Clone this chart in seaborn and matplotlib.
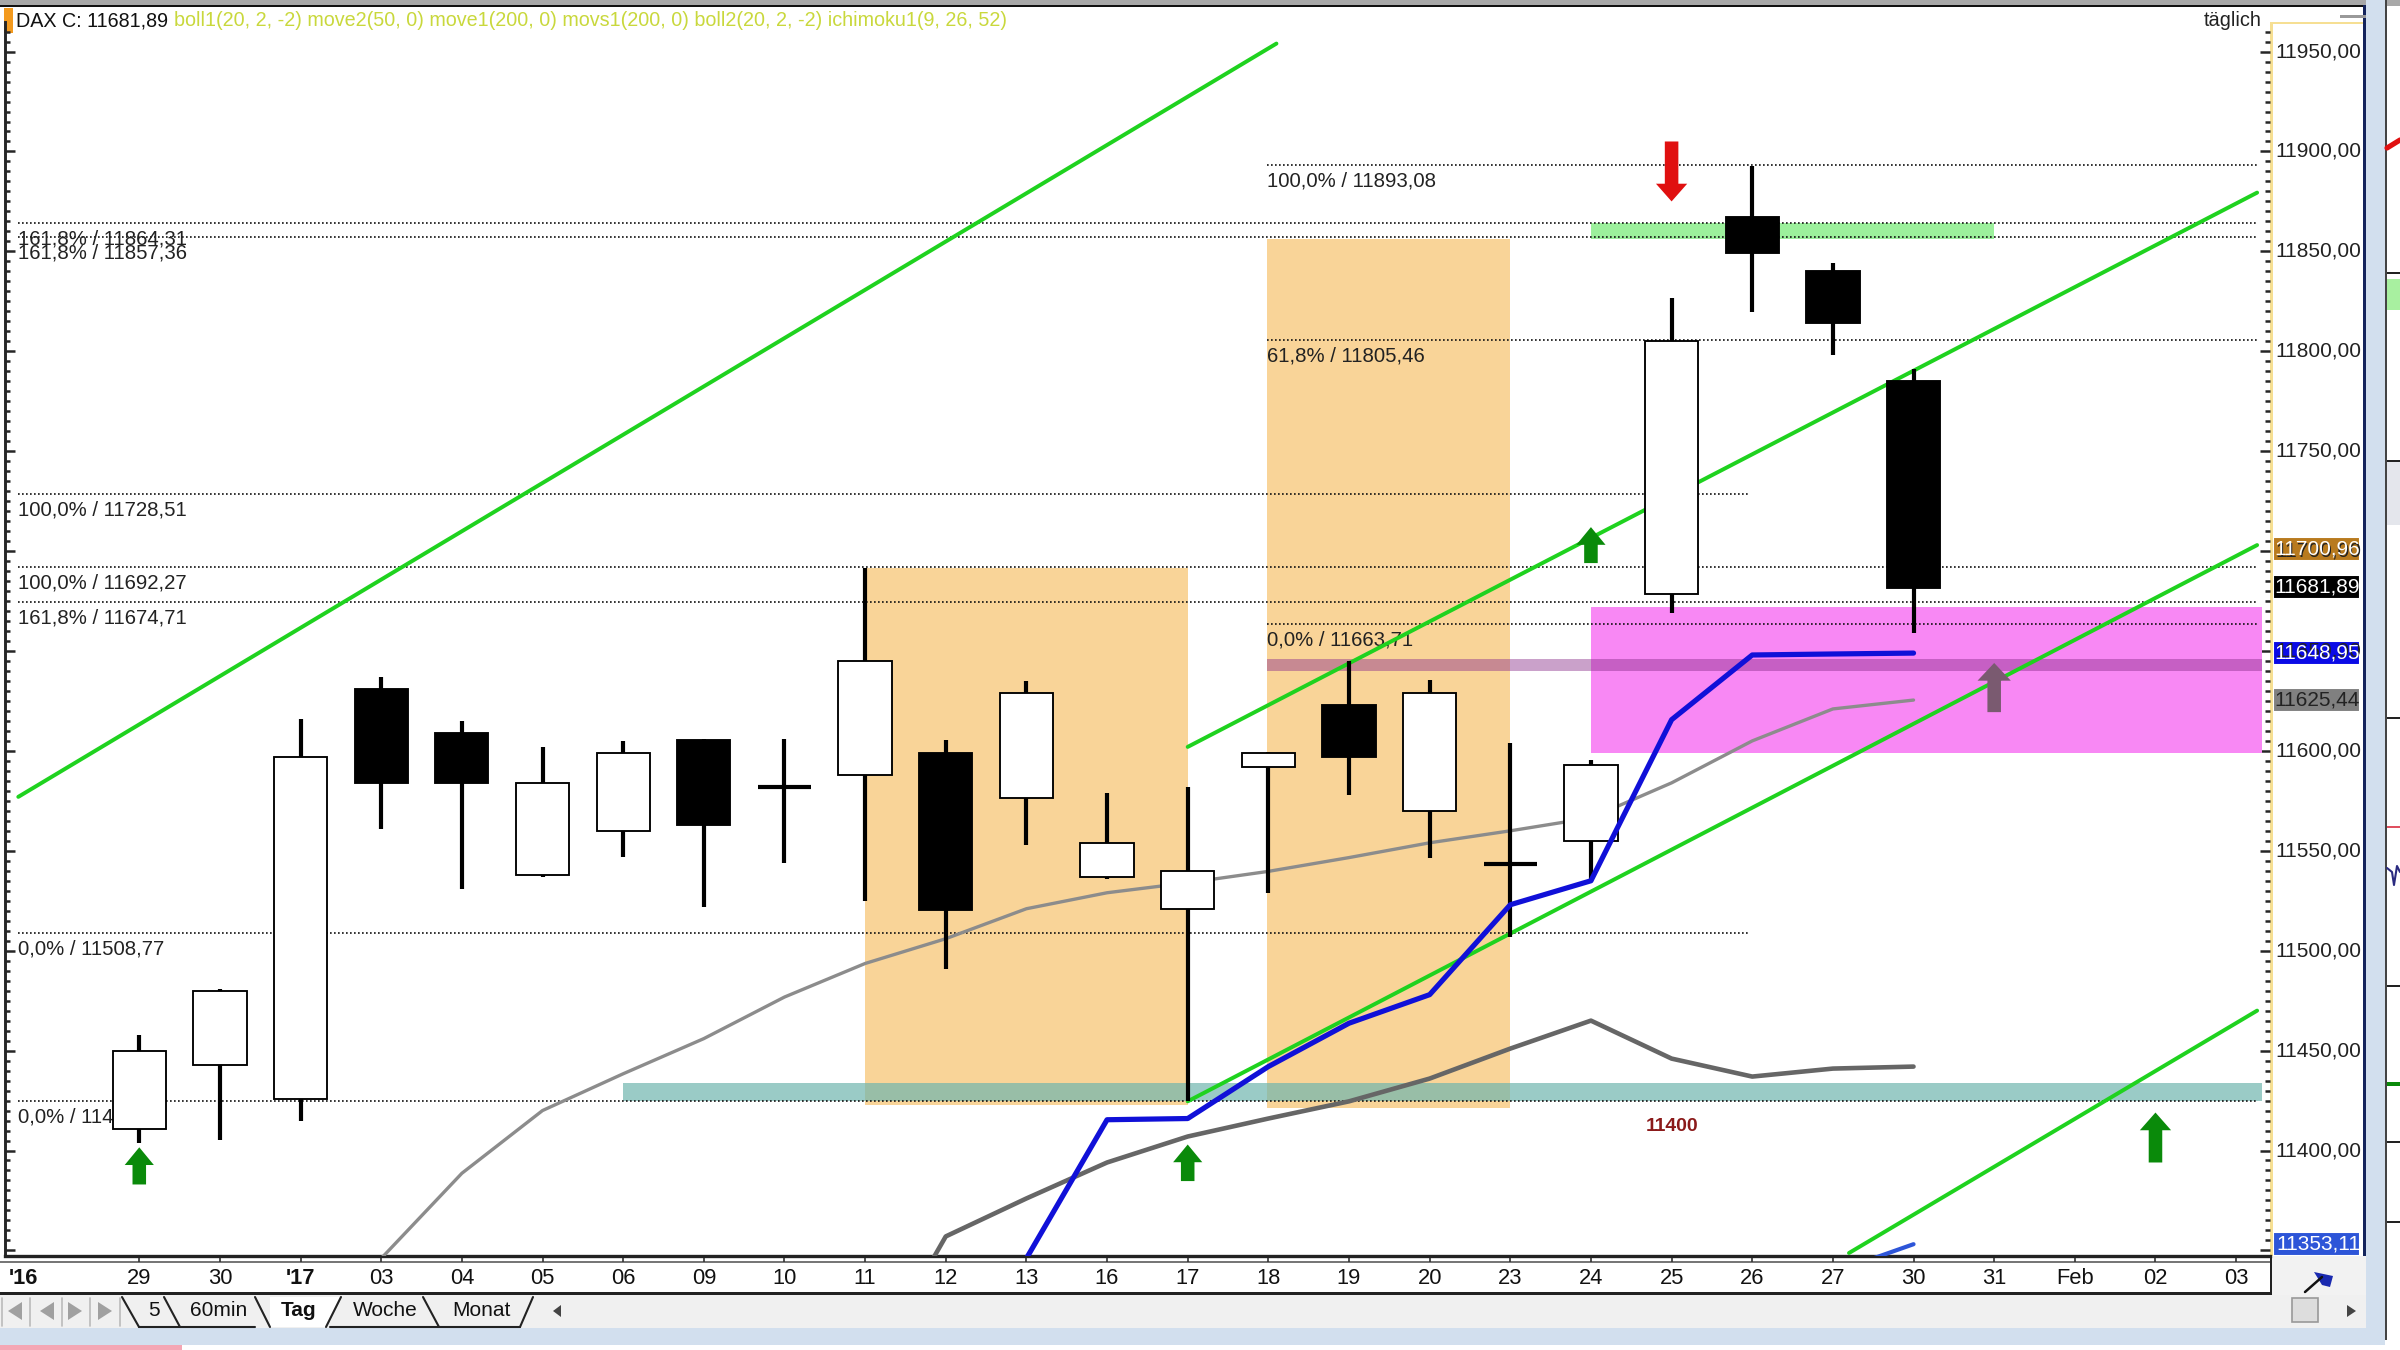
import matplotlib
matplotlib.use('Agg')
import matplotlib.pyplot as plt
from matplotlib.patches import Rectangle, Polygon
from matplotlib.ticker import MultipleLocator
import numpy as np
import pandas as pd
import seaborn as sns

# candles, one per trading day
candle_x = list(range(23))
candle_high = [11457.6, 11480.6, 11616, 11637, 11615, 11602, 11605, 11606, 11606, 11691.5, 11605.6, 11635,
               11579, 11582, 11599.5, 11645, 11635.5, 11604, 11595.6, 11826.5, 11892.5, 11844, 11791]
candle_open = [11410.8, 11443, 11426, 11631, 11609, 11538, 11560, 11605.6, 11582, 11588, 11599, 11576.5,
               11537, 11521, 11592, 11623, 11570, 11543.5, 11555, 11678.5, 11867, 11840, 11785]
candle_close = [11450, 11479.8, 11597, 11584, 11584, 11584, 11599, 11563, 11582, 11645, 11520.5, 11629,
                11554, 11540, 11599, 11597, 11629, 11543.5, 11593, 11805, 11849, 11814, 11681.5]
candle_low = [11404, 11405.4, 11414.6, 11561, 11531, 11537, 11547, 11522, 11544, 11525, 11491, 11553,
              11536, 11424.6, 11529, 11578, 11546.5, 11507, 11536, 11669, 11819.6, 11798, 11659]

# x axis
date_pos = [-1.44] + list(range(27))
date_labels = ["'16", '29', '30', "'17", '03', '04', '05', '06', '09', '10', '11', '12', '13', '16', '17',
               '18', '19', '20', '23', '24', '25', '26', '27', '30', '31', 'Feb', '02', '03']

# indicator lines
blue_x = [11, 12, 13, 14, 15, 16, 17, 18, 19, 20, 21, 22]
blue_y = [11346, 11415.4, 11416, 11442, 11463.7, 11478, 11523, 11535, 11615.6, 11648, 11648.5, 11648.95]
blue2_x = [21.5, 22]
blue2_y = [11346, 11353.11]
thin_x = list(range(3, 23))
thin_y = [11346, 11388.6, 11420, 11438.4, 11456, 11476.8, 11493.6, 11506, 11521, 11529, 11534, 11539.7,
          11546.6, 11554, 11560, 11566.5, 11584, 11605, 11621, 11625.44]
thick_x = list(range(9, 23))
thick_y = [11286.5, 11357, 11376, 11394, 11407, 11416, 11424.6, 11436, 11451, 11465, 11446, 11437, 11441, 11442]

# trend lines
trend_x0 = [-1.5, 13, 13, 21.2]
trend_y0 = [11577, 11602, 11424.6, 11348.7]
trend_x1 = [14.1, 26.26, 26.26, 26.26]
trend_y1 = [11954, 11879.4, 11703, 11470]

# fibonacci levels
fib_values = [11893.08, 11864.31, 11857.36, 11805.46, 11728.51, 11692.27, 11674.71, 11663.71, 11508.77, 11424.66]
fib_labels = ['100,0% / 11893,08', '161,8% / 11864,31', '161,8% / 11857,36', '61,8% / 11805,46',
              '100,0% / 11728,51', '100,0% / 11692,27', '161,8% / 11674,71', '0,0% / 11663,71',
              '0,0% / 11508,77', '0,0% / 11424,66']
fib_start = [13.98, -1.5, -1.5, 13.98, -1.5, -1.5, -1.5, 13.98, -1.5, -1.5]
fib_end = [26.27, 26.27, 26.27, 26.27, 19.96, 26.27, 26.27, 26.27, 19.96, 26.27]

# zones: x0, x1, y0, y1
zone_x0 = [9, 13.98, 6, 18, 18, 13.98]
zone_x1 = [13, 17, 26.32, 23, 26.32, 26.32]
zone_y0 = [11423, 11421.5, 11424.6, 11856, 11599, 11640]
zone_y1 = [11691.5, 11856.4, 11434, 11864, 11672, 11646]
zone_colors = ['#F9D498', '#F9D498', '#6FB5AE', '#9CF09C', '#F888F4', '#8B2F8B']
zone_alpha = [1, 1, 0.7, 1, 1, 0.45]

# arrows
arrow_x = [0, 13, 18, 25, 19, 23]
arrow_base = [11383, 11384.7, 11694, 11394, 11905, 11619.4]
arrow_tip = [11401.6, 11403, 11712, 11419, 11875, 11644]
arrow_colors = ['#0A8A0A', '#0A8A0A', '#0A8A0A', '#0A8A0A', '#E01010', '#7A5A70']
arrow_head = [14, 14, 14, 15, 15, 16]

# price badges on the right scale
badge_values = [11700.96, 11681.89, 11648.95, 11625.44, 11353.11]
badge_colors = ['#B87A1E', '#000000', '#0A0AE6', '#808080', '#2D55D8']
badge_text = ['white', 'white', 'white', '#222222', 'white']

sns.set_theme(style='ticks')
plt.rcParams['font.family'] = ['Liberation Sans', 'DejaVu Sans']

fig = plt.figure(figsize=(16, 9), dpi=150, facecolor='white')

# window chrome lives in an axes with pixel coordinates
bg = fig.add_axes([0, 0, 1, 1], zorder=0)
bg.set_xlim(0, 2400)
bg.set_ylim(1350, 0)
bg.axis('off')


def box(x0, y0, x1, y1, color, **kw):
    bg.add_patch(Rectangle((x0, y0), x1 - x0, y1 - y0, facecolor=color, edgecolor=kw.pop('edge', 'none'), **kw))


box(0, 0, 2400, 6, '#A8A8A8')
box(0, 5, 2365, 7, '#111111')
box(4, 8, 13, 33, '#F39A1E')
box(2270, 22, 2365, 1256, '#FFFFFF')
box(2270, 22, 2273, 1256, '#F6DF93')
box(2270, 22, 2365, 24, '#F6DF93')
box(2363, 5, 2366, 1256, '#14245C')
box(2366, 0, 2385, 1345, '#D2DFEE')
box(2385, 0, 2387, 1340, '#444444')

# next window on the right, only its edge shows
box(2387, 279, 2400, 310, '#A8F0A0')
box(2387, 460, 2400, 525, '#E4E6EC')
for ly in [272, 460, 717, 985, 1141, 1221]:
    box(2387, ly, 2400, ly + 2, '#222222')
box(2387, 1082, 2400, 1086, '#0A8A0A')
box(2387, 826, 2400, 828, '#E05060')
bg.plot([2387, 2400], [148, 140], color='#E01010', lw=2.5)
bg.plot([2387, 2392, 2394, 2397, 2400], [868, 872, 885, 866, 872], color='#2A2A80', lw=1)

# strip below the chart
box(0, 1257, 2270, 1293, '#FFFFFF')
box(0, 1261, 2270, 1262.5, '#777777')
box(0, 1292, 2272, 1295, '#222222')
box(2270, 1256, 2272, 1295, '#222222')
box(0, 1295, 2366, 1330, '#F0F0F0')
box(2272, 1256, 2366, 1295, '#F2F2F2')
box(0, 1328, 2366, 1345, '#D2DFEE')
box(0, 1345, 182, 1350, '#F4A6B4')
box(182, 1345, 2400, 1350, '#FFFFFF')

bg.text(16, 21, 'DAX C: 11681,89', fontsize=9.5, color='#111111', va='center')
bg.text(174, 21, 'boll1(20, 2, -2) move2(50, 0) move1(200, 0) movs1(200, 0) boll2(20, 2, -2) ichimoku1(9, 26, 52)',
        fontsize=9.5, color='#C9D83C', va='center')
bg.text(2233, 21, 'täglich', fontsize=9.6, color='#222222', va='center', ha='center')
box(2340, 15, 2366, 18, '#999999')

# tab bar
bg.add_patch(Polygon([[270, 1297], [341, 1297], [326, 1327], [270, 1327]], facecolor='white', edgecolor='none'))
for x0, x1 in [(122, 139), (164, 180), (255, 270), (341, 326), (423, 439), (533, 520)]:
    bg.plot([x0, x1], [1297, 1327], color='#222222', lw=1)
for x0, x1 in [(139, 180), (180, 255), (330, 439), (439, 520)]:
    bg.plot([x0, x1], [1327, 1327], color='#222222', lw=1)
for tx, name, weight in [(154, '5', 'normal'), (219, '60min', 'normal'), (299, 'Tag', 'bold'),
                         (385, 'Woche', 'normal'), (481, 'Monat', 'normal')]:
    bg.text(tx, 1311, name, fontsize=10, fontweight=weight, color='#111111', ha='center', va='center')
for tx, flip in [(15, -1), (47, -1), (75, 1), (105, 1)]:
    bg.add_patch(Polygon([[tx - 7 * flip, 1302], [tx + 7 * flip, 1311], [tx - 7 * flip, 1320]],
                         facecolor='#A0A0A0', edgecolor='none'))
for x0 in [2, 30, 62, 90, 120]:
    bg.plot([x0, x0], [1298, 1326], color='#BBBBBB', lw=0.8)
bg.add_patch(Polygon([[553, 1311], [561, 1305], [561, 1317]], facecolor='#444444', edgecolor='none'))
bg.add_patch(Polygon([[2347, 1305], [2356, 1311], [2347, 1317]], facecolor='#444444', edgecolor='none'))
box(2292, 1298, 2318, 1322, '#DDDDDD', edge='#999999', lw=0.8)
bg.plot([2305, 2322], [1292, 1277], color='#111111', lw=1.2)
bg.add_patch(Polygon([[2314, 1272], [2333, 1276], [2330, 1287], [2322, 1285]], facecolor='#1A2AB0', edgecolor='none'))

# main chart
ax = fig.add_axes([5 / 2400, 94 / 1350, 2265 / 2400, 1234 / 1350], zorder=1)
ax.patch.set_alpha(0)
ax.set_xlim(-1.665, 26.42)
ax.set_ylim(11347.2, 11964.8)

for x0, x1, y0, y1, c, a in zip(zone_x0, zone_x1, zone_y0, zone_y1, zone_colors, zone_alpha):
    ax.add_patch(Rectangle((x0, y0), x1 - x0, y1 - y0, facecolor=c, edgecolor='none', alpha=a, zorder=1))

ax.hlines(fib_values, fib_start, fib_end, colors='#111111', linewidth=0.8, linestyles=(0, (1, 1.4)), zorder=2)
for val, lab, start in zip(fib_values, fib_labels, fib_start):
    ax.text(start, val - 8, lab, fontsize=9.8, color='#222222', va='center', zorder=2)

for x0, y0, x1, y1 in zip(trend_x0, trend_y0, trend_x1, trend_y1):
    ax.plot([x0, x1], [y0, y1], color='#1FD21F', lw=1.9, zorder=3)

thin_df = pd.DataFrame({'x': thin_x, 'y': thin_y})
thick_df = pd.DataFrame({'x': thick_x, 'y': thick_y})
blue_df = pd.DataFrame({'x': blue_x, 'y': blue_y})
blue2_df = pd.DataFrame({'x': blue2_x, 'y': blue2_y})
sns.lineplot(data=thin_df, x='x', y='y', color='#8C8C8C', lw=1.6, ax=ax, zorder=4, legend=False, estimator=None)
sns.lineplot(data=thick_df, x='x', y='y', color='#666666', lw=2.2, ax=ax, zorder=4, legend=False, estimator=None)

# candles
for i, hi, op, cl, lo in zip(candle_x, candle_high, candle_open, candle_close, candle_low):
    ax.vlines(i, lo, hi, colors='black', linewidth=2, zorder=5)
    if op == cl:
        ax.hlines(op, i - 0.33, i + 0.33, colors='black', linewidth=2, zorder=5)
    else:
        face = 'white' if cl > op else 'black'
        ax.bar(i, abs(cl - op), bottom=min(op, cl), width=0.66, facecolor=face, edgecolor='black', linewidth=0.9, zorder=5)

sns.lineplot(data=blue_df, x='x', y='y', color='#1010D8', lw=2.5, ax=ax, zorder=6, legend=False, estimator=None)
sns.lineplot(data=blue2_df, x='x', y='y', color='#2D55D8', lw=2, ax=ax, zorder=6, legend=False, estimator=None)

for x, base, tip, c, hw in zip(arrow_x, arrow_base, arrow_tip, arrow_colors, arrow_head):
    ax.annotate('', xy=(x, tip), xytext=(x, base), zorder=7,
                arrowprops=dict(facecolor=c, edgecolor='none', shrink=0, width=6.5,
                                headwidth=hw, headlength=8.5))

ax.text(19, 11412, '11400', fontsize=9.3, fontweight='bold', color='#8B1A1A', ha='center', va='center')

ax.set_xlabel('')
ax.set_ylabel('')
ax.set_xticks(date_pos, date_labels, fontsize=10.5, color='#111111')
ax.get_xticklabels()[0].set_fontweight('bold')
ax.get_xticklabels()[3].set_fontweight('bold')
ax.xaxis.get_major_ticks()[0].tick1line.set_visible(False)
ax.tick_params(axis='x', length=3, width=0.8, pad=3, color='#333333')
ax.yaxis.set_major_locator(MultipleLocator(50))
ax.yaxis.set_minor_locator(MultipleLocator(5))
ax.tick_params(axis='y', which='major', length=5, width=1.2, direction='in', labelleft=False)
ax.tick_params(axis='y', which='minor', length=2.2, width=1.2, direction='in')
ax.yaxis.set_tick_params(which='both', left=True, right=True)
sns.despine(ax=ax, top=True, right=True)
ax.spines['left'].set_linewidth(1.4)
ax.spines['bottom'].set_linewidth(1.6)
ax.spines['bottom'].set_color('#222222')

# right price scale
axr = fig.add_axes([2273 / 2400, 94 / 1350, 90 / 2400, 1234 / 1350], zorder=2)
axr.patch.set_alpha(0)
axr.set_xlim(0, 90)
axr.set_ylim(ax.get_ylim())
axr.axis('off')
for val in np.arange(11400, 11951, 50):
    axr.text(88, val, f'{val:.2f}'.replace('.', ','), fontsize=10, color='#222222', ha='right', va='center')
axr.barh(badge_values, 87, height=12, color=badge_colors, left=0)
for val, tc in zip(badge_values, badge_text):
    axr.text(87, val, f'{val:.2f}'.replace('.', ','), fontsize=10, color=tc, ha='right', va='center')

fig.savefig('out.png', dpi=150)
